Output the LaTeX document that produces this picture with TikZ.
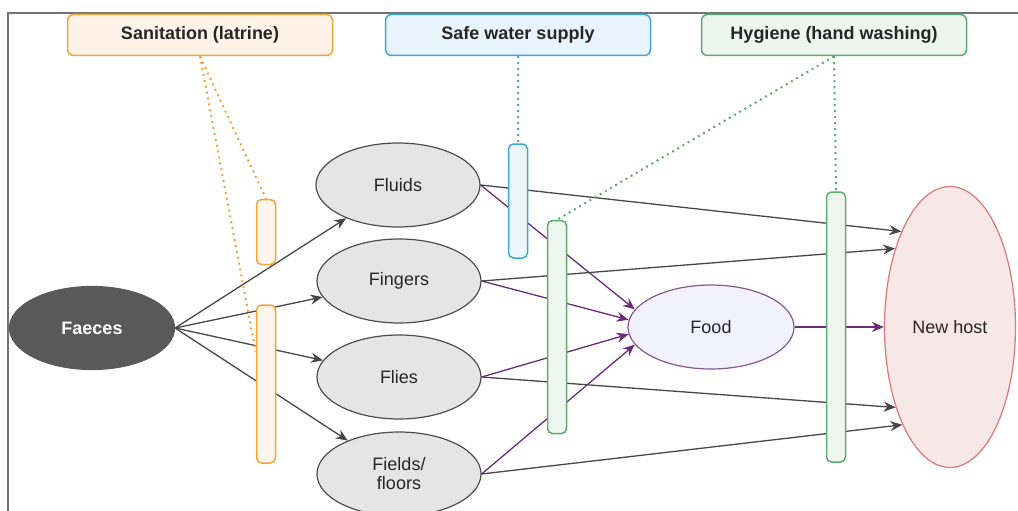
\documentclass[tikz,border=0pt]{standalone}
\usepackage{fontspec}
\setmainfont{Liberation Sans}
\usetikzlibrary{shapes.geometric,arrows.meta}
\definecolor{sanorange}{HTML}{F2A33A}
\definecolor{waterblue}{HTML}{3FA6DA}
\definecolor{hygreen}{HTML}{5DAA6E}
\definecolor{foodpurple}{HTML}{6A2C7A}
\definecolor{hostred}{HTML}{D9787A}

\begin{document}
\begin{tikzpicture}[x=1pt,y=-1pt,>={Stealth[length=12pt,width=10pt]},
  topbox/.style={draw=#1,fill=#1!12,line width=1.5pt,rounded corners=6pt,
    minimum width=265pt,minimum height=41pt,
    font=\fontsize{18}{20}\selectfont\bfseries,text=black!85},
  bar/.style={draw=#1,fill=#1!10,line width=1.5pt,rounded corners=5pt,
    minimum width=19pt,inner sep=0pt},
  blob/.style={ellipse,draw=black!70,fill=black!10,line width=1.2pt,
    minimum width=164pt,minimum height=84pt,inner sep=0pt,
    font=\fontsize{18}{19}\selectfont,text=black!85,align=center},
  link/.style={->,draw=black!72,line width=1.3pt},
  foodlink/.style={->,draw=foodpurple,line width=1.3pt},
  hint/.style={draw=#1,line width=2pt,dash pattern=on 2pt off 4pt}]
  \useasboundingbox (0,0) rectangle (1018,511);
  \draw[black!55,line width=1.5pt](8,511)--(8,13)--(1018,13);

  % barriers (labels)
  \node[topbox=sanorange] (sanit) at (200,35) {Sanitation (latrine)};
  \node[topbox=waterblue] (water) at (518,35) {Safe water supply};
  \node[topbox=hygreen] (hygiene) at (834,35) {Hygiene (hand washing)};

  % routes
  \node[blob,minimum width=165pt,minimum height=83pt,fill=black!65,draw=black!65,
        text=white,font=\fontsize{18}{20}\selectfont\bfseries] (faeces) at (92,328) {Faeces};
  \node[blob] (fluids) at (398,185) {Fluids};
  \node[blob] (fingers) at (399,281) {Fingers};
  \node[blob] (flies) at (399,377) {Flies};
  \node[blob] (fields) at (399,474) {Fields/\\floors};
  \node[blob,draw=foodpurple!80,fill=blue!5,minimum width=166pt,minimum height=84pt] (food) at (711,327) {Food};
  \node[blob,draw=hostred,fill=hostred!18,minimum width=131pt,minimum height=281pt] (newhost) at (950,327) {New host};

  \foreach \n/\a/\b in {fluids/167/117,fingers/175/125,flies/185/236,fields/193/244}
  {
    \draw[link](faeces.east)--(\n);
    \draw[foodlink](\n.east)--(food.\a);
    \draw[link](\n.east)--(newhost.\b);
  }
  \draw[foodlink](food.east)--(newhost.west);

  % bars
  \node[bar=sanorange,minimum height=65pt] (sanbar1) at (266,232) {};
  \node[bar=sanorange,minimum height=158pt] (sanbar2) at (266,384) {};
  \node[bar=waterblue,minimum height=114pt] (waterbar) at (518,201) {};
  \node[bar=hygreen,minimum height=213pt] (hygbar1) at (557,327) {};
  \node[bar=hygreen,minimum height=270pt] (hygbar2) at (836,327) {};

  \draw[hint=sanorange](sanit.south)--(sanbar1.north);
  \draw[hint=sanorange](sanit.south)--([yshift=32pt]sanbar2.west);
  \draw[hint=waterblue](water.south)--(waterbar.north);
  \draw[hint=hygreen](hygiene.south)--(hygbar1.north);
  \draw[hint=hygreen](hygiene.south)--(hygbar2.north);
\end{tikzpicture}
\end{document}
